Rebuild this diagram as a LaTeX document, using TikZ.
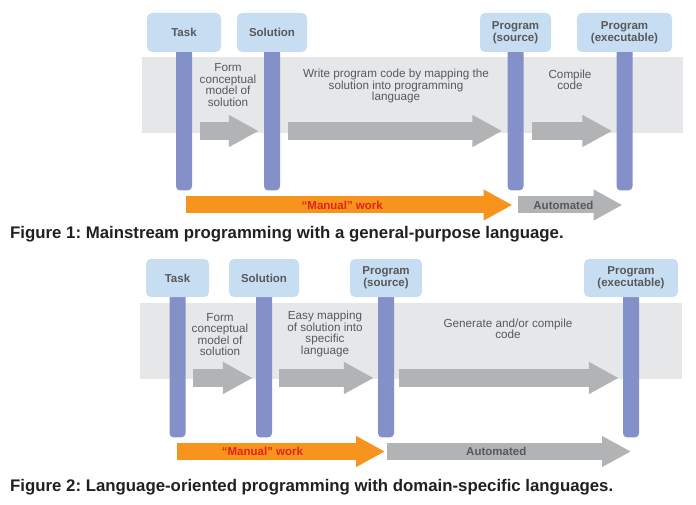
\documentclass[tikz,border=0pt]{standalone}
\usepackage{fontspec}
\setmainfont{Liberation Sans}
\usepackage{tikz}
\usetikzlibrary{arrows.meta,positioning,backgrounds}
\definecolor{boxblue}{HTML}{C7DDF2}
\definecolor{barblue}{HTML}{8490C8}
\definecolor{bandgray}{HTML}{E6E7E8}
\definecolor{arrowgray}{HTML}{B2B3B5}
\definecolor{workorange}{HTML}{F7941E}
\definecolor{manualred}{HTML}{E2231A}
\definecolor{textgray}{HTML}{58595B}
\definecolor{capblack}{HTML}{231F20}
\frenchspacing

\begin{document}
\begin{tikzpicture}[
  x=1pt, y=-1pt,
  band/.style={fill=bandgray, inner sep=0pt},
  stage/.style={fill=boxblue, rounded corners=5pt, minimum height=39pt,
                inner sep=1pt, align=center, text=textgray,
                font=\bfseries\fontsize{11.5}{12}\selectfont},
  lifeline/.style={fill=barblue, rounded corners=4pt, minimum width=16pt,
                   inner sep=0pt, anchor=north},
  note/.style={align=center, text=textgray, inner sep=0pt,
               font=\fontsize{11.7}{11.4}\selectfont},
  steparrow/.style={draw=arrowgray, line width=18pt,
                    -{Triangle[length=30pt,width=30pt]}},
  workarrow/.style={line width=17pt, -{Triangle[length=29pt,width=29pt]}},
  worklabel/.style={font=\bfseries\fontsize{11.5}{12}\selectfont, inner sep=0pt},
  caption/.style={anchor=west, inner sep=0pt, text=capblack,
                  font=\bfseries\fontsize{16.8}{18}\selectfont}
]
\useasboundingbox (0,0) rectangle (696,505);

% Figure 1
\node[stage, minimum width=74pt] (task1) at (184,32.5) {Task};
\node[stage, minimum width=70pt] (sol1) at (272,32.5) {Solution};
\node[stage, minimum width=71pt] (src1) at (515.5,32.5) {Program\\(source)};
\node[stage, minimum width=95pt] (exe1) at (624.5,32.5) {Program\\(executable)};
\begin{pgfonlayer}{background}
\node[band, minimum width=541pt, minimum height=76pt] (band1) at (412.5,95) {};
\foreach \n in {task1,sol1,src1,exe1}
  \node[lifeline, minimum height=150pt] (\n bar) at ([yshift=12pt]\n.south) {};
\end{pgfonlayer}

\coordinate (row1) at (0,131);
\coordinate (low1) at (0,205);
\draw[steparrow, shorten <=8pt, shorten >=5pt] (task1bar.east |- row1) -- (sol1bar.west |- row1);
\draw[steparrow, shorten <=8pt, shorten >=5pt] (sol1bar.east |- row1) -- (src1bar.west |- row1);
\draw[steparrow, shorten <=8pt, shorten >=4pt] (src1bar.east |- row1) -- (exe1bar.west |- row1);

\node[note] (form1) at (228,85) {Form\\conceptual\\model of\\solution};
\node[note] (write1) at (396,86) {Write program code by mapping the\\solution into programming\\language};
\node[note] (comp1) at (570,80) {Compile\\code};

\draw[workarrow, draw=workorange, shorten <=10pt, shorten >=3pt]
  (task1bar.west |- low1) -- (src1bar.center |- low1)
  node[worklabel, text=manualred, pos=0.49] {``Manual'' work};
\draw[workarrow, draw=arrowgray, shorten <=2pt, shorten >=2pt]
  (src1bar.center |- low1) -- (exe1bar.center |- low1)
  node[worklabel, text=textgray, pos=0.44] {Automated};

\node[caption] (cap1) at (10,234) {Figure 1: Mainstream programming with a general-purpose language.};

% Figure 2
\node[stage, minimum width=63pt, minimum height=38pt] (task2) at (177.5,278) {Task};
\node[stage, minimum width=70pt, minimum height=38pt] (sol2) at (264,278) {Solution};
\node[stage, minimum width=72pt, minimum height=38pt] (src2) at (386,278) {Program\\(source)};
\node[stage, minimum width=94pt, minimum height=38pt] (exe2) at (631,278) {Program\\(executable)};
\begin{pgfonlayer}{background}
\node[band, minimum width=542pt, minimum height=76pt] (band2) at (411,341) {};
\foreach \n in {task2,sol2,src2,exe2}
  \node[lifeline, minimum height=152pt] (\n bar) at ([yshift=12pt]\n.south) {};
\end{pgfonlayer}

\coordinate (row2) at (0,378);
\coordinate (low2) at (0,451.5);
\draw[steparrow, shorten <=7pt, shorten >=3pt] (task2bar.east |- row2) -- (sol2bar.west |- row2);
\draw[steparrow, shorten <=7pt, shorten >=4pt] (sol2bar.east |- row2) -- (src2bar.west |- row2);
\draw[steparrow, shorten <=5pt, shorten >=4pt] (src2bar.east |- row2) -- (exe2bar.west |- row2);

\node[note] (form2) at (220,334.5) {Form\\conceptual\\model of\\solution};
\node[note] (easy2) at (325,334) {Easy mapping\\of solution into\\specific\\language};
\node[note] (gen2) at (508,329) {Generate and/or compile\\code};

\draw[workarrow, draw=workorange, shorten <=7.5pt, shorten >=1pt]
  (task2bar.west |- low2) -- (src2bar.center |- low2)
  node[worklabel, text=manualred, pos=0.43] {``Manual'' work};
\draw[workarrow, draw=arrowgray, shorten <=1pt]
  (src2bar.center |- low2) -- (exe2bar.center |- low2)
  node[worklabel, text=textgray, pos=0.45] {Automated};

\node[caption] (cap2) at (10,487) {Figure 2: Language-oriented programming with domain-specific languages.};
\end{tikzpicture}
\end{document}
